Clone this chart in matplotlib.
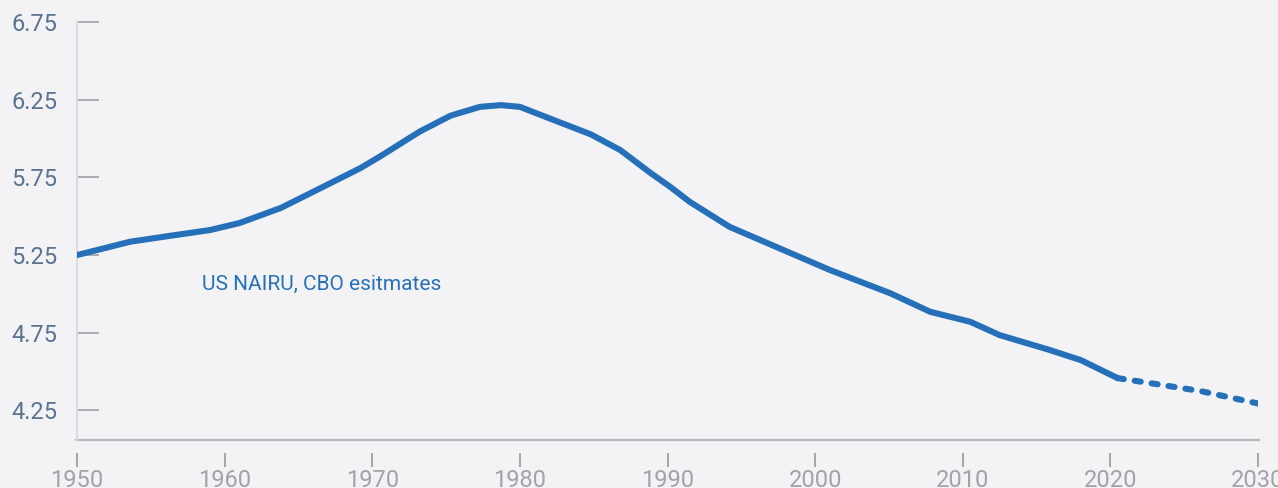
import matplotlib
matplotlib.use("Agg")
import matplotlib.pyplot as plt

# US NAIRU (CBO estimates)
years_hist = [1950, 1953.6, 1956.3, 1959.0, 1961.0, 1963.8, 1966.5, 1969.2,
              1970.5, 1973.2, 1975.3, 1977.3, 1978.7, 1980.0, 1982.0, 1984.8,
              1986.8, 1988.8, 1990.2, 1991.5, 1994.2, 1997.6, 2001.0, 2005.1,
              2007.8, 2010.5, 2012.5, 2015.9, 2018.0, 2020.5]
nairu_hist = [5.25, 5.336, 5.374, 5.411, 5.456, 5.553, 5.681, 5.810,
              5.883, 6.044, 6.147, 6.204, 6.215, 6.204, 6.130, 6.027,
              5.926, 5.782, 5.688, 5.593, 5.432, 5.293, 5.154, 5.004,
              4.885, 4.821, 4.735, 4.639, 4.574, 4.458]
years_proj = [2020.5, 2022.7, 2026.1, 2030]
nairu_proj = [4.458, 4.426, 4.375, 4.295]

yticks = [4.25, 4.75, 5.25, 5.75, 6.25, 6.75]
xticks = list(range(1950, 2031, 10))

plt.rcParams['font.family'] = ['Roboto', 'DejaVu Sans']

blue = '#2670b9'
bg = '#f3f3f6'

fig = plt.figure(figsize=(12.78, 4.88), dpi=100, facecolor=bg)
ax = fig.add_axes([77 / 1278, 1 - 440 / 488, (1258 - 77) / 1278, 418 / 488])
ax.set_facecolor(bg)

ax.plot(years_hist, nairu_hist, color=blue, lw=4.4, solid_capstyle='round',
        solid_joinstyle='round', zorder=3)
ax.plot(years_proj, nairu_proj, color=blue, lw=4.4, linestyle=(0, (1.0, 1.8)),
        dash_capstyle='round', zorder=3)

ax.set_xlim(1950, 2030)
ax.set_ylim(4.06, 6.75)

for s in ['top', 'right']:
    ax.spines[s].set_visible(False)
ax.spines['left'].set_color('#dcdce0')
ax.spines['left'].set_linewidth(1.5)
ax.spines['bottom'].set_position(('outward', 9))
ax.spines['bottom'].set_visible(False)
# axis line sits above the detached x ticks
ax.plot([1949.9, 2030.1], [4.06, 4.06], color='#b8b8bc', lw=1.6,
        clip_on=False, zorder=2)

ax.set_yticks(yticks)
ax.set_yticklabels([f"{v:.2f}" for v in yticks])
ax.tick_params(axis='y', direction='in', length=16, width=1.1, color='#9a9a9e',
               pad=14, labelsize=17, labelcolor='#5a7390')
ax.set_xticks(xticks)
ax.set_xticklabels([str(x) for x in xticks])
ax.tick_params(axis='x', direction='out', length=10, width=1.3, color='#a0a0a4',
               pad=2, labelsize=17, labelcolor='#a3a3a7')

ax.text(1958.5, 5.06, "US NAIRU, CBO esitmates", color=blue, fontsize=15,
        ha='left', va='center')

fig.savefig('out.png', dpi=100, facecolor=bg)
